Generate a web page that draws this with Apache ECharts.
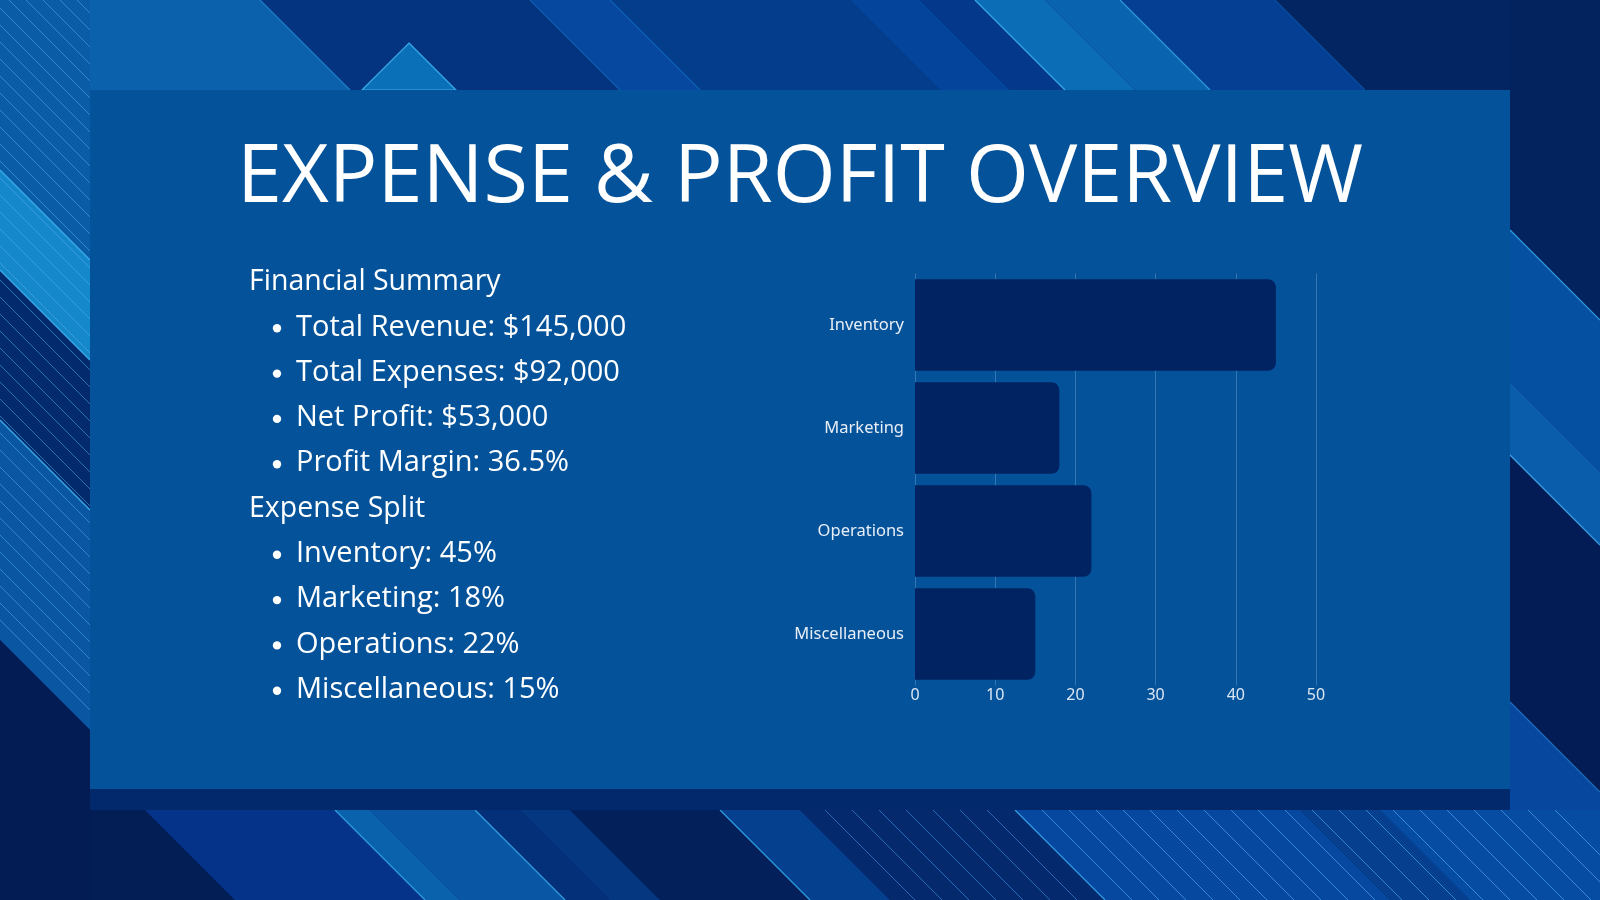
<!DOCTYPE html>
<html>
<head>
<meta charset="utf-8">
<title>Expense & Profit Overview</title>
<script src="https://cdn.jsdelivr.net/npm/echarts@6/dist/echarts.min.js"></script>
<style>
    html, body { margin: 0; padding: 0; background: #03286c; }
    #main { width: 1600px; height: 900px; }
</style>
</head>
<body>
<div id="main"></div>
<script>
var titleText = 'EXPENSE & PROFIT OVERVIEW';
var summaryHeading = 'Financial Summary';
var summaryItems = ['Total Revenue: $145,000', 'Total Expenses: $92,000', 'Net Profit: $53,000', 'Profit Margin: 36.5%'];
var splitHeading = 'Expense Split';
var splitItems = ['Inventory: 45%', 'Marketing: 18%', 'Operations: 22%', 'Miscellaneous: 15%'];

var categories = ['Inventory', 'Marketing', 'Operations', 'Miscellaneous'];
var values = [45, 18, 22, 15];
var axisMax = 50;
var axisStep = 10;

// diagonal band inside a horizontal strip (x = a + y)
function bandH(a, b, y0, y1, color) {
    return {
        type: 'polygon', silent: true, z: -10,
        shape: {points: [[a + y0, y0], [b + y0, y0], [b + y1, y1], [a + y1, y1]]},
        style: {fill: color}
    };
}
// diagonal band inside a vertical strip
function bandV(a, b, x0, x1, color) {
    return {
        type: 'polygon', silent: true, z: -10,
        shape: {points: [[x0, x0 - a], [x1, x1 - a], [x1, x1 - b], [x0, x0 - b]]},
        style: {fill: color}
    };
}
function lineH(a, y0, y1, color, w) {
    return {
        type: 'line', silent: true, z: -9,
        shape: {x1: a + y0, y1: y0, x2: a + y1, y2: y1},
        style: {stroke: color, lineWidth: w || 1}
    };
}
function lineV(a, x0, x1, color, w) {
    return {
        type: 'line', silent: true, z: -9,
        shape: {x1: x0, y1: x0 - a, x2: x1, y2: x1 - a},
        style: {stroke: color, lineWidth: w || 1}
    };
}

function buildBackground() {
    var g = [];
    g.push({type: 'rect', silent: true, z: -11, shape: {x: 0, y: 0, width: 1600, height: 900}, style: {fill: '#03286c'}});

    // top strip
    var top = [[-200, 260, '#0b61ab'], [260, 530, '#04337f'], [530, 610, '#06479f'], [610, 850, '#053d8d'],
        [850, 920, '#04449a'], [920, 975, '#03388a'], [975, 1045, '#0b6db6'], [1045, 1120, '#0a63ae'],
        [1120, 1275, '#043f93'], [1275, 1800, '#032561']];
    top.forEach(function (b) { g.push(bandH(b[0], b[1], 0, 90, b[2])); });
    [[260, '#1c7fc9'], [530, '#0d5fb0'], [610, '#0d5fb0'], [975, '#3aa9e8'], [1120, '#2e98dc'], [1275, '#0c4d9c']].forEach(function (l) {
        g.push(lineH(l[0], 0, 90, l[1], 1.2));
    });

    // right strip
    var right = [[1280, 1800, '#03235f'], [1128, 1280, '#0550a0'], [1055, 1128, '#0a5dab'], [808, 1055, '#031c56'], [300, 808, '#07479e']];
    right.forEach(function (b) { g.push(bandV(b[0], b[1], 1510, 1600, b[2])); });
    [[1280, '#2d9be0'], [1055, '#3aa5e6'], [808, '#1f6fbf']].forEach(function (l) {
        g.push(lineV(l[0], 1510, 1600, l[1], 1.2));
    });

    // bottom strip (a measured at y = 810)
    var bottom = [[-200, 145, '#031d55'], [145, 335, '#05338a'], [335, 370, '#0a62ad'], [370, 475, '#0957a4'],
        [475, 520, '#04307a'], [520, 570, '#04377f'], [570, 720, '#03205b'], [720, 800, '#05408f'],
        [800, 1015, '#04296c'], [1015, 1300, '#0647a0'], [1300, 1380, '#053f8e'], [1380, 1800, '#074ca3']];
    bottom.forEach(function (b) { g.push(bandH(b[0] - 810, b[1] - 810, 810, 900, b[2])); });
    [335, 475, 720, 1015].forEach(function (x) { g.push(lineH(x - 810, 810, 900, '#2f9de0', 1.2)); });
    for (var x = 825; x < 1000; x += 27) { g.push(lineH(x - 810, 810, 900, 'rgba(60,130,215,0.7)', 1)); }
    for (var x2 = 1042; x2 < 1560; x2 += 27) { g.push(lineH(x2 - 810, 810, 900, 'rgba(80,170,235,0.65)', 1)); }

    // left strip
    var left = [[-170, 100, '#0b5ca7'], [-270, -170, '#1588cc'], [-420, -270, '#042a6e'], [-640, -420, '#0a56a3'], [-1200, -640, '#041c54']];
    left.forEach(function (b) { g.push(bandV(b[0], b[1], 0, 90, b[2])); });
    for (var a = -620; a < 80; a += 17) { g.push(lineV(a, 0, 90, 'rgba(80,175,235,0.55)', 1)); }
    [-170, -270, -420].forEach(function (a) { g.push(lineV(a, 0, 90, '#3aa9e8', 1.3)); });

    // small triangle above the panel
    g.push({type: 'polygon', silent: true, z: -8, shape: {points: [[409, 43], [456, 90], [362, 90]]},
        style: {fill: '#0a70b8', stroke: '#3aa9e8', lineWidth: 1.2}});

    // panel
    g.push({type: 'rect', silent: true, z: -7, shape: {x: 90, y: 90, width: 1420, height: 699}, style: {fill: '#04539a'}});
    g.push({type: 'rect', silent: true, z: -7, shape: {x: 90, y: 789, width: 1420, height: 21}, style: {fill: '#03296d'}});
    return g;
}

function buildTexts() {
    var g = [];
    var font = '"Open Sans", "DejaVu Sans", sans-serif';
    g.push({type: 'text', z: 5, x: 800, y: 179, style: {text: titleText, fill: '#ffffff', font: '400 81px ' + font, align: 'center', verticalAlign: 'middle'}});
    var rows = [];
    rows.push({t: summaryHeading, head: true});
    summaryItems.forEach(function (s) { rows.push({t: s}); });
    rows.push({t: splitHeading, head: true});
    splitItems.forEach(function (s) { rows.push({t: s}); });
    for (var i = 0; i < rows.length; i++) {
        var y = 282 + i * 45.3;
        if (rows[i].head) {
            g.push({type: 'text', z: 5, x: 249, y: y, style: {text: rows[i].t, fill: '#ffffff', font: '400 28.5px ' + font, verticalAlign: 'middle'}});
        } else {
            g.push({type: 'circle', z: 5, shape: {cx: 277, cy: y + 1, r: 4.2}, style: {fill: '#ffffff'}});
            g.push({type: 'text', z: 5, x: 296, y: y, style: {text: rows[i].t, fill: '#ffffff', font: '400 29px ' + font, verticalAlign: 'middle'}});
        }
    }
    return g;
}

var chart = echarts.init(document.getElementById('main'));
var option = {
    animation: false,
    graphic: buildBackground().concat(buildTexts()),
    grid: {left: 915, right: 284, top: 273.5, bottom: 214.5, containLabel: false},
    xAxis: {
        type: 'value', min: 0, max: axisMax, interval: axisStep,
        axisLine: {show: false}, axisTick: {show: false},
        axisLabel: {color: '#dce7f4', fontSize: 16, fontFamily: 'Noto Sans', margin: 2},
        splitLine: {show: true, lineStyle: {color: 'rgba(110,165,220,0.45)', width: 1}}
    },
    yAxis: {
        type: 'category', data: categories, inverse: true,
        axisLine: {show: false}, axisTick: {show: false},
        axisLabel: {color: '#e8eef7', fontSize: 16.5, fontFamily: 'Noto Sans', margin: 11}
    },
    series: [{
        type: 'bar', data: values, barCategoryGap: '11%',
        itemStyle: {color: '#022362', borderRadius: [0, 8, 8, 0]}
    }]
};
chart.setOption(option);
</script>
</body>
</html>
